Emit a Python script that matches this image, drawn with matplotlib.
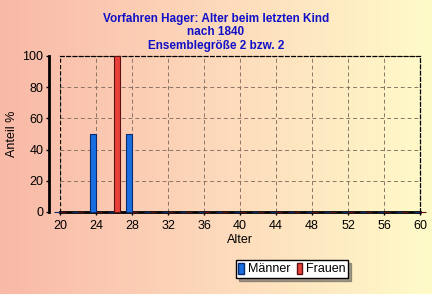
import matplotlib
matplotlib.use("Agg")
import matplotlib.pyplot as plt
import numpy as np
from matplotlib.colors import LinearSegmentedColormap

ages = list(range(20, 62, 2))
maenner = [0, 0, 50, 0, 50] + [0] * 16
frauen = [0, 0, 0, 100, 0] + [0] * 16
xticks = list(range(20, 61, 4))
yticks = [0, 20, 40, 60, 80, 100]
title = "Vorfahren Hager: Alter beim letzten Kind\nnach 1840\nEnsemblegröße 2 bzw. 2"

plt.rcParams['font.family'] = ['Liberation Sans', 'DejaVu Sans']

fig = plt.figure(figsize=(4.32, 2.94), dpi=100)

# background gradient
bg = fig.add_axes([0, 0, 1, 1])
cmap = LinearSegmentedColormap.from_list('bg', ['#f9b9a7', '#fdd9bb', '#fffbc9'])
bg.imshow(np.linspace(0, 1, 256).reshape(1, -1), aspect='auto', cmap=cmap, extent=[0, 1, 0, 1])
bg.axis('off')

ax = fig.add_axes([60/432, 1-212/294, 360/432, 156/294])
ax.patch.set_alpha(0)
w = 0.68
x = np.array(ages, dtype=float)
ax.bar(x - w/2, maenner, width=w, color='#1a6fe0', edgecolor='#0a2a70', linewidth=0.8, clip_on=False, zorder=3)
ax.bar(x + w/2, frauen, width=w, color='#e8403a', edgecolor='#601010', linewidth=0.8, clip_on=False, zorder=3)
ax.set_xlim(20, 60)
ax.set_ylim(0, 100)
ax.set_xticks(xticks)
ax.set_yticks(yticks)
ax.grid(True, linestyle=(0, (4, 3)), color='#8c7565', linewidth=0.7)
ax.set_axisbelow(True)
for s in ['top', 'right']:
    ax.spines[s].set_linestyle((0, (3, 2)))
    ax.spines[s].set_linewidth(0.9)
ax.axvline(20, color='black', linestyle=(0, (3, 2)), linewidth=0.9, zorder=2)
ax.spines['left'].set_position(('outward', 8))
ax.spines['left'].set_linewidth(2)
ax.spines['bottom'].set_linewidth(2)
ax.tick_params(axis='both', labelsize=9, length=2, width=1, pad=2)
ax.tick_params(axis='x', pad=4)
ax.set_xlabel('Alter', fontsize=9, labelpad=1)
ax.set_ylabel('Anteil %', fontsize=9, labelpad=3)

fig.text(0.5, 1-13/294, title, ha='center', va='top', color='#1010c8', fontsize=8.5,
         fontweight='bold', linespacing=1.15)

h1 = plt.Rectangle((0, 0), 1, 1, facecolor='#1a6fe0', edgecolor='#0a2a70')
h2 = plt.Rectangle((0, 0), 1, 1, facecolor='#e8403a', edgecolor='#601010')
leg = fig.legend([h1, h2], ['Männer', 'Frauen'], ncol=2, loc='center',
                 bbox_to_anchor=(292/432, 1-269/294), fontsize=9, frameon=True,
                 fancybox=False, shadow=True, handlelength=0.45, handleheight=1.0,
                 handletextpad=0.3, columnspacing=0.5, borderpad=0.2, borderaxespad=0)
leg.get_frame().set_edgecolor('black')
leg.get_frame().set_linewidth(1)

fig.savefig('out.png', dpi=100)
